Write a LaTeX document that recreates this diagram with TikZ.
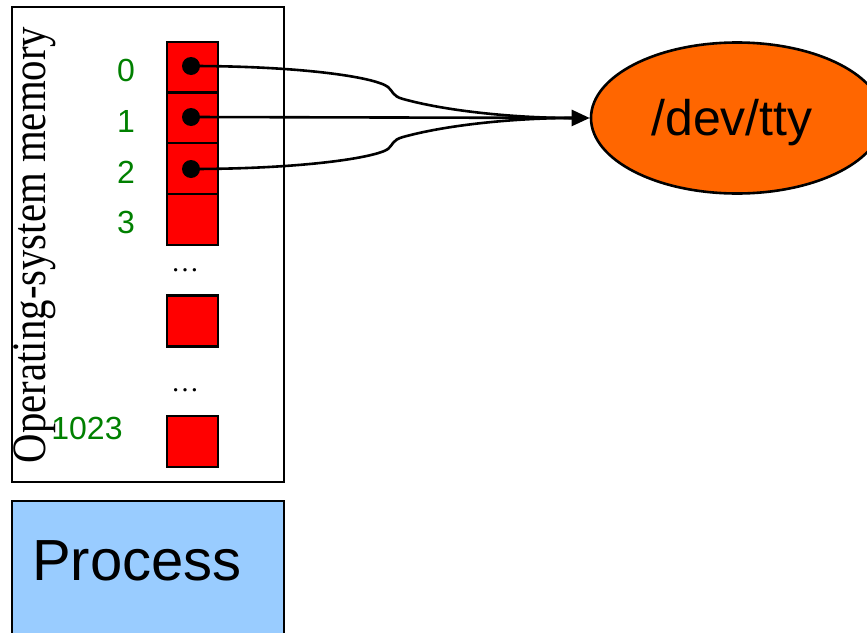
\documentclass[tikz,border=0pt]{standalone}
\usepackage{fontspec}
\setmainfont{Liberation Sans}
\newfontfamily\serifface{Liberation Serif}
\usetikzlibrary{shapes.geometric,arrows.meta}
\definecolor{cellred}{HTML}{FF0000}
\definecolor{idxgreen}{HTML}{008000}
\definecolor{ttyorange}{HTML}{FF6600}
\definecolor{procblue}{HTML}{99CCFF}
\tikzset{
  cell/.style={draw=black, fill=cellred, line width=2.5pt, minimum width=51pt, minimum height=51pt, inner sep=0pt},
  idx/.style={text=idxgreen, font=\fontsize{32}{32}\selectfont, inner sep=0pt, anchor=base},
  fdptr/.style={circle, fill=black, minimum size=18pt, inner sep=0pt},
  conn/.style={draw=black, line width=2.6pt},
  ellipsis/.style={font=\fontsize{28}{28}\selectfont\serifface, inner sep=0pt, anchor=base}
}
\begin{document}
\begin{tikzpicture}[x=1pt,y=-1pt]
\useasboundingbox (0,0) rectangle (867,632);
% memory box
\node[draw=black, line width=2.6pt, minimum width=272pt, minimum height=475pt, inner sep=0pt] (mem) at (148,244.5) {};
\node[rotate=90, anchor=base, inner sep=0pt, font=\serifface\fontsize{48}{48}\selectfont] (memlabel) at (45,245) {\scalebox{0.85}[1]{Operating-system memory}};
% process box
\node[draw=black, fill=procblue, line width=2.6pt, minimum width=272pt, minimum height=150pt, inner sep=0pt] (proc) at (148,576) {};
\node[anchor=base west, inner sep=0pt, font=\fontsize{58}{58}\selectfont] (proctext) at (32,580) {Process};
% cells
\node[cell] (c0) at (192.5,67.5) {};
\node[cell] (c1) at (192.5,118) {};
\node[cell] (c2) at (192.5,168.5) {};
\node[cell] (c3) at (192.5,219.5) {};
\node[cell] (c4) at (192.5,321) {};
\node[cell] (c5) at (192.5,441.5) {};
% indices
\node[idx] (i0) at (126,81) {0};
\node[idx] (i1) at (126,132) {1};
\node[idx] (i2) at (126,183) {2};
\node[idx] (i3) at (126,233) {3};
\node[idx] (i4) at (87,439) {1023};
% ellipses
\node[ellipsis] (e1) at (185,271) {\dots};
\node[ellipsis] (e2) at (185,391) {\dots};
% pointers
\node[fdptr] (p0) at (191,66) {};
\node[fdptr] (p1) at (191,117) {};
\node[fdptr] (p2) at (191,169) {};
% tty
\node[ellipse, draw=black, fill=ttyorange, line width=2.6pt, minimum width=292pt, minimum height=151pt, inner sep=0pt] (tty) at (737,118) {};
\node[inner sep=0pt, anchor=base, font=\fontsize{50}{50}\selectfont] (ttytext) at (732,135) {/dev/tty};
\coordinate (merge) at (572,118);
% connectors
\draw[conn, -{Triangle[length=18pt,width=16pt]}] (p1.center) -- (tty.west);
\draw[conn] (p0.center) .. controls (300,66) and (375,77) .. (388,87)
  .. controls (393,91) and (392,96) .. (403,99)
  .. controls (450,112) and (520,118) .. (merge);
\draw[conn] (p2.center) .. controls (300,169) and (375,158) .. (388,149)
  .. controls (393,145) and (392,140) .. (403,137)
  .. controls (450,124) and (520,118) .. (merge);
\end{tikzpicture}
\end{document}
